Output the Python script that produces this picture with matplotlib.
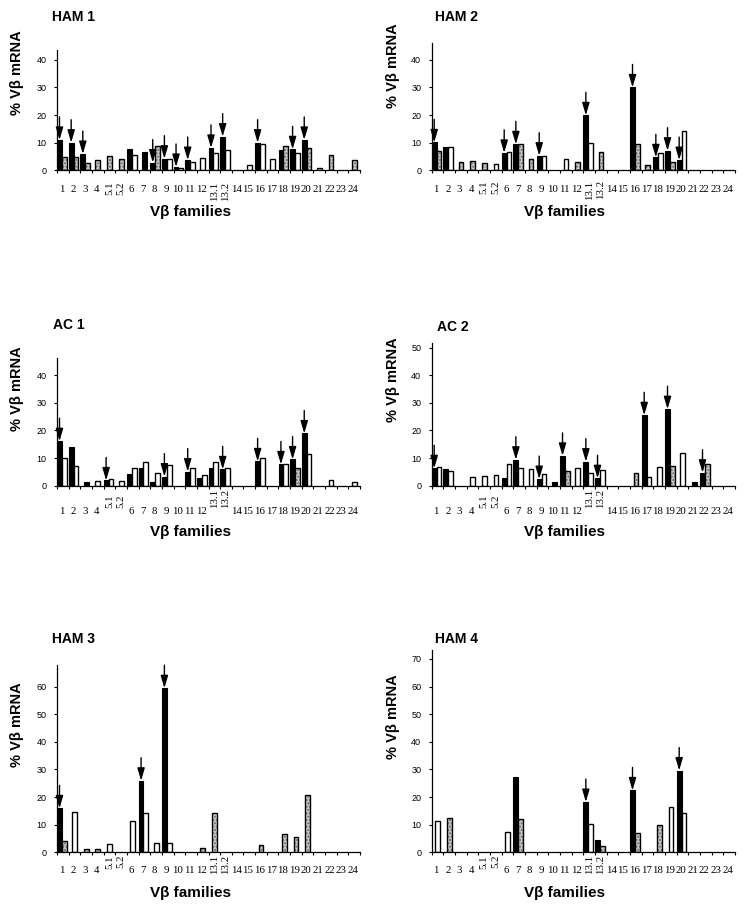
import matplotlib
matplotlib.use('Agg')
import matplotlib.pyplot as plt

categories = ['1', '2', '3', '4', '5.1', '5.2', '6', '7', '8', '9', '10', '11', '12',
              '13.1', '13.2', '14', '15', '16', '17', '18', '19', '20', '21', '22', '23', '24']

# ---------------- HAM 1 ----------------
ham1_black = [11.0, 10.0, 5.9, 0, 0, 0, 7.7, 6.7, 2.8, 4.2, 1.2, 3.7, 0, 8.1, 12.2, 0, 0, 10.0, 0, 7.5, 7.6, 11.0, 0, 0, 0, 0]
ham1_white = [0, 0, 0, 0, 0, 0, 5.5, 0, 0, 4.0, 1.0, 2.9, 4.3, 6.3, 7.5, 0, 1.8, 9.6, 4.0, 0, 6.3, 0, 1.0, 0, 0, 0]
ham1_gray = [4.9, 4.7, 2.5, 3.7, 5.2, 4.0, 0, 0, 8.8, 0, 0, 0, 0, 0, 0, 0, 0, 0, 0, 8.8, 0, 8.1, 0, 5.5, 0, 3.7]
ham1_arrows = ['1', '2', '3', '8', '9', '10', '11', '13.1', '13.2', '16', '19', '20']

# ---------------- HAM 2 ----------------
ham2_black = [10.1, 8.3, 0, 0, 0, 0, 6.3, 9.4, 0, 5.3, 0, 0, 0, 19.9, 0, 0, 0, 30.0, 0, 4.7, 7.1, 3.7, 0, 0, 0, 0]
ham2_white = [0, 8.3, 0, 0, 0, 2.3, 6.6, 0, 0, 5.1, 0, 4.2, 0, 9.8, 0, 0, 0, 0, 0, 6.3, 0, 14.1, 0, 0, 0, 0]
ham2_gray = [6.9, 0, 2.9, 3.3, 2.7, 0, 0, 9.5, 4.1, 0, 0, 0, 2.9, 0, 6.5, 0, 0, 9.4, 2.0, 0, 2.9, 0, 0, 0, 0, 0]
ham2_arrows = ['1', '6', '7', '9', '13.1', '16', '18', '19', '20']

# ---------------- AC 1 ----------------
ac1_black = [16.1, 14.1, 1.2, 0, 1.9, 0, 4.2, 6.3, 1.3, 3.3, 0, 5.1, 2.9, 6.3, 5.9, 0, 0, 8.8, 0, 7.7, 9.5, 18.9, 0, 0, 0, 0]
ac1_white = [10.1, 7.2, 0, 1.7, 2.3, 1.7, 6.5, 8.7, 4.7, 7.5, 0, 6.3, 3.9, 8.7, 6.3, 0, 0, 10.1, 0, 7.7, 0, 11.3, 0, 2.0, 0, 1.3]
ac1_gray = [0, 0, 0, 0, 0, 0, 0, 0, 0, 0, 0, 0, 0, 0, 0, 0, 0, 0, 0, 0, 6.5, 0, 0, 0, 0, 0]
ac1_arrows = ['1', '5.1', '9', '11', '13.2', '16', '18', '19', '20']

# ---------------- AC 2 ----------------
ac2_black = [6.3, 6.1, 0, 0, 0, 0, 2.7, 9.4, 0, 2.4, 1.2, 10.8, 0, 8.7, 2.7, 0, 0, 0, 25.5, 0, 27.7, 0, 1.4, 4.7, 0, 0]
ac2_white = [6.6, 5.3, 0, 3.3, 3.6, 3.9, 7.8, 6.3, 5.9, 4.2, 0, 0, 6.3, 4.7, 5.7, 0, 0, 0, 3.3, 6.6, 0, 11.7, 0, 0, 0, 0]
ac2_gray = [0, 0, 0, 0, 0, 0, 0, 0, 0, 0, 0, 5.4, 0, 0, 0, 0, 0, 4.7, 0, 0, 7.2, 0, 0, 7.7, 0, 0]
ac2_arrows = ['1', '7', '9', '11', '13.1', '13.2', '17', '19', '22']

# ---------------- HAM 3 ----------------
ham3_black = [15.9, 0, 0, 0, 0, 0, 0, 25.9, 0, 59.4, 0, 0, 0, 0, 0, 0, 0, 0, 0, 0, 0, 0, 0, 0, 0, 0]
ham3_white = [0, 14.5, 0, 0, 3.0, 0, 11.4, 14.4, 3.5, 3.5, 0, 0, 0, 0, 0, 0, 0, 0, 0, 0, 0, 0, 0, 0, 0, 0]
ham3_gray = [4.2, 0, 1.2, 1.2, 0, 0, 0, 0, 0, 0, 0, 0, 1.4, 14.1, 0, 0, 0, 2.7, 0, 6.5, 5.4, 20.8, 0, 0, 0, 0]
ham3_arrows = ['1', '7', '9']

# ---------------- HAM 4 ----------------
ham4_black = [0, 0, 0, 0, 0, 0, 0, 27.2, 0, 0, 0, 0, 0, 18.2, 4.5, 0, 0, 22.4, 0, 0, 0, 29.6, 0, 0, 0, 0]
ham4_white = [11.5, 0, 0, 0, 0, 0, 7.5, 0, 0, 0, 0, 0, 0, 10.1, 0, 0, 0, 0, 0, 0, 16.5, 14.1, 0, 0, 0, 0]
ham4_gray = [0, 12.3, 0, 0, 0, 0, 0, 12.1, 0, 0, 0, 0, 0, 0, 2.3, 0, 0, 6.9, 0, 9.9, 0, 0, 0, 0, 0, 0]
ham4_arrows = ['13.1', '16', '20']

W, H = 750, 909
fig = plt.figure(figsize=(W / 100, H / 100), dpi=100)
fig.patch.set_facecolor('white')

SANS = ['Liberation Sans', 'DejaVu Sans']
SERIF = ['Liberation Serif', 'DejaVu Serif']
PX_PER_UNIT = 2.762

panels = [
    dict(title='HAM 1', data=(ham1_black, ham1_white, ham1_gray), arrows=ham1_arrows,
         left=57, right=360, zero=170.3, top=50, tpos=(52, 17), ypos=(17.5, 73), xpos=(191, 212),
         dig=19.7, rot=('top', 11.4)),
    dict(title='HAM 2', data=(ham2_black, ham2_white, ham2_gray), arrows=ham2_arrows,
         left=431.7, right=735, zero=170.3, top=42.7, tpos=(435, 17), ypos=(392.5, 66), xpos=(564, 212),
         dig=19.7, rot=('top', 10.0)),
    dict(title='AC 1', data=(ac1_black, ac1_white, ac1_gray), arrows=ac1_arrows,
         left=57, right=360, zero=485.7, top=358.3, tpos=(53, 325), ypos=(17.5, 389), xpos=(191, 532),
         dig=26, rot=('bottom', 22.3)),
    dict(title='AC 2', data=(ac2_black, ac2_white, ac2_gray), arrows=ac2_arrows,
         left=431.7, right=735, zero=485.7, top=343.3, tpos=(437, 327), ypos=(392.5, 380), xpos=(564, 532),
         dig=26, rot=('bottom', 22.3)),
    dict(title='HAM 3', data=(ham3_black, ham3_white, ham3_gray), arrows=ham3_arrows,
         left=57, right=360, zero=852.3, top=665, tpos=(52, 639), ypos=(17.5, 725), xpos=(191, 893),
         dig=18.4, rot=('top', 2.7)),
    dict(title='HAM 4', data=(ham4_black, ham4_white, ham4_gray), arrows=ham4_arrows,
         left=431.7, right=735, zero=852.3, top=650, tpos=(435, 639), ypos=(392.5, 717), xpos=(564, 893),
         dig=18.4, rot=('top', 2.7)),
]

BAR_W = 0.41
PAIR_OFF = (0.01, 0.42)
SINGLE_OFF = 0.30


def fx(px):
    return px / W


def fy(py):
    return 1 - py / H


for p in panels:
    ymax = (p['zero'] - p['top']) / PX_PER_UNIT
    ax = fig.add_axes([fx(p['left']), fy(p['zero']), (p['right'] - p['left']) / W,
                       (p['zero'] - p['top']) / H])
    black, white, gray = p['data']
    n = len(categories)
    pos = {'k': ([], []), 'w': ([], []), 'g': ([], [])}
    black_x = {}
    for i in range(n):
        present = [(kind, v) for kind, v in (('k', black[i]), ('w', white[i]), ('g', gray[i])) if v > 0]
        offs = [SINGLE_OFF] if len(present) == 1 else list(PAIR_OFF)
        for (kind, v), o in zip(present, offs):
            pos[kind][0].append(i + o)
            pos[kind][1].append(v)
            if kind == 'k':
                black_x[categories[i]] = (i + o + BAR_W / 2, v)
    ax.bar(pos['k'][0], pos['k'][1], width=BAR_W, align='edge', color='black',
           edgecolor='black', linewidth=0.8, zorder=2)
    ax.bar(pos['w'][0], pos['w'][1], width=BAR_W, align='edge', color='white',
           edgecolor='black', linewidth=1.0, zorder=2)
    ax.bar(pos['g'][0], pos['g'][1], width=BAR_W, align='edge', color='#c8c8c8',
           edgecolor='#6a6a6a', linewidth=0, hatch='.....', zorder=2)
    ax.bar(pos['g'][0], pos['g'][1], width=BAR_W, align='edge', fill=False,
           edgecolor='black', linewidth=1.0, zorder=3)

    for cat in p['arrows']:
        x, v = black_x[cat]
        ax.annotate('', xy=(x, v), xytext=(0, 23), textcoords='offset pixels',
                    annotation_clip=False,
                    arrowprops=dict(arrowstyle='-|>,head_length=0.75,head_width=0.22',
                                    mutation_scale=10, color='black', lw=1.0,
                                    shrinkA=0, shrinkB=0), zorder=5)

    ax.set_xlim(0, n)
    ax.set_ylim(0, ymax)
    for s in ('top', 'right'):
        ax.spines[s].set_visible(False)
    for s in ('left', 'bottom'):
        ax.spines[s].set_linewidth(0.9)
    ax.set_xticks(range(n + 1))
    ax.set_xticklabels([])
    ax.tick_params(axis='x', direction='out', length=2.2, width=0.8)
    ax.set_yticks(range(0, int(ymax) + 1, 10))
    ax.tick_params(axis='y', direction='out', length=2.5, width=0.8, pad=5, labelsize=6.5)
    for lab in ax.get_yticklabels():
        lab.set_family(SANS)
    ax.patch.set_alpha(0)

    anchor, roff = p['rot']
    for i, lab in enumerate(categories):
        if '.' in lab:
            ax.annotate(lab, xy=(i + 0.5, 0), xytext=(0, -roff), textcoords='offset pixels',
                        rotation=90, ha='center', va=anchor, fontsize=7.8, family=SERIF,
                        annotation_clip=False)
        else:
            ax.annotate(lab, xy=(i + 0.38, 0), xytext=(0, -p['dig']), textcoords='offset pixels',
                        ha='center', va='center', fontsize=7.8, family=SERIF,
                        annotation_clip=False)

    fig.text(fx(p['tpos'][0]), fy(p['tpos'][1]), p['title'], ha='left', va='center',
             fontsize=10, fontweight='bold', family=SANS)
    fig.text(fx(p['ypos'][0]), fy(p['ypos'][1]), '% V\u03b2 mRNA', ha='center', va='center',
             rotation=90, fontsize=10.5, fontweight='bold', family=SANS)
    fig.text(fx(p['xpos'][0]), fy(p['xpos'][1]), 'V\u03b2 families', ha='center', va='center',
             fontsize=11, fontweight='bold', family=SANS)

fig.savefig('out.png', dpi=100, facecolor='white')
